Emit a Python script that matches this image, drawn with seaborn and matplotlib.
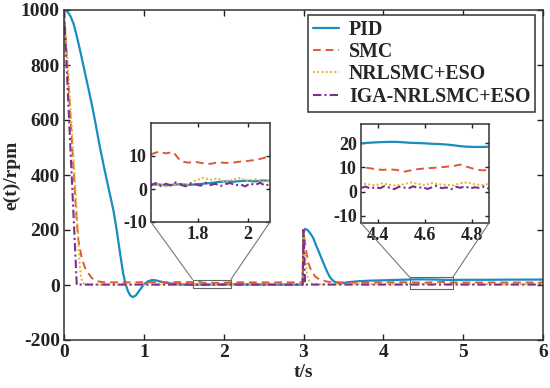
import numpy as np
import pandas as pd
import matplotlib
matplotlib.use("Agg")
import matplotlib.pyplot as plt
import seaborn as sns
from matplotlib.patches import Rectangle, ConnectionPatch

# ---------------- data ----------------
labels = ["PID", "SMC", "NRLSMC+ESO", "IGA-NRLSMC+ESO"]

w1_t = [1.61, 1.64, 1.67, 1.70, 1.73, 1.76, 1.79, 1.82, 1.85, 1.88, 1.91, 1.94, 1.97, 2.00, 2.03, 2.06, 2.09]
w2_t = [4.33, 4.36, 4.39, 4.42, 4.45, 4.48, 4.51, 4.54, 4.57, 4.60, 4.63, 4.66, 4.69, 4.72, 4.75, 4.78, 4.81, 4.84, 4.87]
w1_tf = [1.61, 1.63, 1.65, 1.67, 1.69, 1.71, 1.73, 1.75, 1.77, 1.79, 1.81, 1.83, 1.85, 1.87, 1.89, 1.91, 1.93, 1.95, 1.97, 1.99, 2.01, 2.03, 2.05, 2.07, 2.09]
w2_tf = [4.33, 4.35, 4.37, 4.39, 4.41, 4.43, 4.45, 4.47, 4.49, 4.51, 4.53, 4.55, 4.57, 4.59, 4.61, 4.63, 4.65, 4.67, 4.69, 4.71, 4.73, 4.75, 4.77, 4.79, 4.81, 4.83, 4.85, 4.87]

# PID
pid_t_a = [0, 0.04, 0.08, 0.12, 0.16, 0.20, 0.26, 0.30, 0.35, 0.40, 0.44, 0.50, 0.56, 0.62, 0.66, 0.70, 0.74,
           0.77, 0.80, 0.83, 0.86, 0.90, 0.95, 1.00, 1.05, 1.10, 1.15, 1.20, 1.30, 1.40, 1.50]
pid_e_a = [1000, 995, 978, 950, 905, 855, 775, 722, 655, 580, 516, 430, 350, 270, 200, 120, 44,
           5, -22, -38, -44, -38, -18, 2, 13, 18, 17, 13, 7, 3, 1.5]
pid_e_w1 = [1.2, 1.4, 1.1, 1.3, 1.5, 1.2, 1.4, 1.6, 1.8, 2.1, 2.3, 2.2, 2.4, 2.5, 2.3, 2.6, 2.5]
pid_t_b = [2.2, 2.5, 2.8, 2.99, 3.00, 3.02, 3.05, 3.08, 3.12, 3.15, 3.20, 3.25, 3.29, 3.33, 3.37, 3.40, 3.45, 3.50, 3.55, 3.70, 3.85, 4.00, 4.15, 4.30]
pid_e_b = [2, 1.5, 1.2, 1.2, 195, 204, 200, 190, 172, 150, 115, 80, 52, 29, 16, 10, 6, 7, 10, 14, 16, 17, 18.5, 19.5]
pid_e_w2 = [20.0, 20.2, 20.4, 20.5, 20.6, 20.6, 20.4, 20.2, 20.1, 20.0, 19.8, 19.7, 19.5, 19.2, 18.8, 18.6, 18.5, 18.5, 18.6]
pid_t_c = [5.0, 5.3, 5.6, 6.0]
pid_e_c = [18.8, 19.0, 19.5, 19.8]

# SMC
smc_t_a = [0, 0.05, 0.10, 0.15, 0.18, 0.22, 0.26, 0.30, 0.35, 0.41, 0.50, 0.70, 1.00, 1.30, 1.50]
smc_e_a = [1000, 760, 520, 270, 164, 100, 65, 44, 25, 14, 10, 9.5, 10, 10, 10.5]
smc_e_w1 = [10.5, 11.3, 10.8, 11.2, 8.4, 8.0, 8.2, 7.8, 7.6, 8.1, 7.9, 8.0, 8.3, 8.5, 8.8, 9.3, 10.0]
smc_t_b = [2.3, 2.6, 2.99, 3.00, 3.03, 3.06, 3.10, 3.15, 3.20, 3.30, 3.40, 3.60, 4.00]
smc_e_b = [9.5, 9.5, 9.5, 200, 130, 80, 50, 30, 20, 12, 10, 9, 9.5]
smc_e_w2 = [10.0, 9.8, 9.3, 9.0, 9.2, 9.0, 8.2, 8.8, 9.3, 9.6, 9.8, 10.0, 10.3, 10.6, 11.2, 10.2, 9.3, 8.8, 9.0]
smc_t_c = [5.0, 5.5, 6.0]
smc_e_c = [9, 9, 9]

# NRLSMC+ESO
nr_t_a = [0, 0.10, 0.16, 0.19, 0.21, 0.23, 0.26, 0.50, 1.00, 1.50]
nr_e_a = [1000, 565, 260, 100, 35, 10, 3, 1.5, 1.5, 1.5]
nr_e_w1 = [1.0, 1.5, 0.8, 1.2, 1.6, 1.3, 2.6, 3.4, 2.8, 3.2, 2.0, 2.9, 3.3, 2.4, 3.0, 2.2, 2.6]
nr_t_b = [2.3, 2.6, 2.99, 3.00, 3.03, 3.05, 3.08, 3.12, 3.30, 4.00]
nr_e_b = [1.5, 1.5, 1.5, 200, 80, 30, 8, 3, 3, 3]
nr_e_w2 = [3.5, 3.0, 2.6, 3.4, 2.8, 2.5, 3.0, 3.8, 3.2, 2.7, 3.6, 3.0, 2.8, 2.6, 3.5, 3.8, 3.0, 2.7, 3.2]
nr_t_c = [5.0, 6.0]
nr_e_c = [3, 3]

# IGA-NRLSMC+ESO
iga_t_a = [0, 0.16, 0.20, 0.50, 1.00, 1.50]
iga_e_a = [1000, 0, 1.5, 1.5, 1.5, 1.5]
iga_e_w1 = [1.2, 1.8, 0.9, 1.6, 1.1, 2.0, 1.3, 0.8, 1.7, 1.4, 1.0, 1.9, 1.2, 1.6, 0.9, 1.5, 1.8, 1.1, 1.4, 0.8, 1.7, 1.2, 1.9, 1.0, 1.5]
iga_t_b = [2.3, 2.6, 2.99, 3.00, 3.02, 3.30, 4.00]
iga_e_b = [1.5, 1.5, 1.5, 200, 1.5, 1.5, 1.5]
iga_e_w2 = [1.5, 2.1, 1.2, 1.9, 1.4, 2.3, 1.6, 1.0, 2.0, 1.7, 1.3, 2.2, 1.5, 1.9, 1.1, 1.8, 2.4, 1.4, 1.7, 1.0, 2.0, 1.6, 2.2, 1.3, 1.8, 1.5, 2.1, 1.2]
iga_t_c = [5.0, 6.0]
iga_e_c = [1.5, 1.5]

# axes settings
x_ticks = [0, 1, 2, 3, 4, 5, 6]
y_ticks = [-200, 0, 200, 400, 600, 800, 1000]
zoom1_xlim = (1.61, 2.09); zoom1_ylim = (-10, 20)
zoom1_xticks = [1.8, 2]; zoom1_yticks = [-10, 0, 10]
zoom2_xlim = (4.33, 4.87); zoom2_ylim = (-13, 28)
zoom2_xticks = [4.4, 4.6, 4.8]; zoom2_yticks = [-10, 0, 10, 20]

# ---------------- build table ----------------
def series(name, parts):
    t, e = [], []
    for a, b in parts:
        t += list(a); e += list(b)
    return pd.DataFrame({"t": t, "e": e, "method": name})

df = pd.concat([
    series(labels[0], [(pid_t_a, pid_e_a), (w1_t, pid_e_w1), (pid_t_b, pid_e_b), (w2_t, pid_e_w2), (pid_t_c, pid_e_c)]),
    series(labels[1], [(smc_t_a, smc_e_a), (w1_t, smc_e_w1), (smc_t_b, smc_e_b), (w2_t, smc_e_w2), (smc_t_c, smc_e_c)]),
    series(labels[2], [(nr_t_a, nr_e_a), (w1_t, nr_e_w1), (nr_t_b, nr_e_b), (w2_t, nr_e_w2), (nr_t_c, nr_e_c)]),
    series(labels[3], [(iga_t_a, iga_e_a), (w1_tf, iga_e_w1), (iga_t_b, iga_e_b), (w2_tf, iga_e_w2), (iga_t_c, iga_e_c)]),
], ignore_index=True)

colors = {labels[0]: "#1a8cc0", labels[1]: "#dc5a35", labels[2]: "#e8b12a", labels[3]: "#7e2f8e"}
styles = {labels[0]: "-", labels[1]: (0, (4, 2.5)), labels[2]: (0, (1, 1.2)), labels[3]: (0, (4, 1.5, 1, 1.5))}
widths = {labels[0]: 1.6, labels[1]: 1.4, labels[2]: 1.4, labels[3]: 1.5}

# ---------------- plotting ----------------
sns.set_theme(style="ticks")
plt.rcParams["font.family"] = ["Liberation Serif", "DejaVu Serif"]
plt.rcParams["font.weight"] = "bold"
plt.rcParams["axes.labelweight"] = "bold"
plt.rcParams["axes.unicode_minus"] = False

fig = plt.figure(figsize=(5.5, 3.88), dpi=100)
ax = fig.add_axes([64 / 550, 1 - 340 / 388, 479 / 550, 330 / 388])

def draw(axx, legend=False):
    for name in labels:
        d = df[df["method"] == name]
        sns.lineplot(data=d, x="t", y="e", ax=axx, color=colors[name], linestyle=styles[name],
                     linewidth=widths[name], estimator=None, sort=False,
                     label=name if legend else None, legend=False)

def style_axes(axx, fs, length):
    axx.tick_params(direction="in", top=True, right=True, length=length, width=1,
                    labelsize=fs, colors="#222222", pad=3)
    for lab in axx.get_xticklabels() + axx.get_yticklabels():
        lab.set_fontweight("bold")
    for s in axx.spines.values():
        s.set_color("#333333"); s.set_linewidth(1.1); s.set_visible(True)
    axx.set_xlabel(""); axx.set_ylabel("")

draw(ax, legend=True)
ax.set_xlim(0, 6)
ax.set_ylim(-200, 1000)
ax.set_xticks(x_ticks)
ax.set_yticks(y_ticks)
style_axes(ax, 14, 4)
ax.set_xlabel("t/s", fontsize=14, fontweight="bold", labelpad=2)
ax.set_ylabel("e(t)/rpm", fontsize=14, fontweight="bold", labelpad=0)

handles, labs = ax.get_legend_handles_labels()
leg = ax.legend(handles, labs, loc="upper right", bbox_to_anchor=(0.984, 0.986),
                prop={"family": "Liberation Serif", "weight": "bold", "size": 14.3},
                frameon=True, fancybox=False, edgecolor="#333333", framealpha=1,
                borderpad=0.25, labelspacing=0.12, handlelength=1.3, handletextpad=0.5,
                borderaxespad=0)
leg.get_frame().set_linewidth(1.1)

def add_zoom(bounds, xlim, ylim, xticks, yticks):
    ins = ax.inset_axes(bounds)
    draw(ins)
    ins.set_xlim(*xlim); ins.set_ylim(*ylim)
    ins.set_xticks(xticks); ins.set_yticks(yticks)
    ins.set_xticklabels([f"{v:g}" for v in xticks])
    style_axes(ins, 13, 3)
    rect = Rectangle((xlim[0], ylim[0]), xlim[1] - xlim[0], ylim[1] - ylim[0],
                     fill=False, edgecolor="#666666", linewidth=0.8, zorder=5)
    ax.add_patch(rect)
    for ax_x, dx in ((0, xlim[0]), (1, xlim[1])):
        cp = ConnectionPatch(xyA=(ax_x, 0), coordsA=ins.transAxes,
                             xyB=(dx, ylim[1]), coordsB=ax.transData,
                             color="#777777", linewidth=0.8)
        fig.add_artist(cp)
    return ins

add_zoom([(151 - 64) / 479, (340 - 222) / 330, 119 / 479, 99 / 330],
         zoom1_xlim, zoom1_ylim, zoom1_xticks, zoom1_yticks)
add_zoom([(361 - 64) / 479, (340 - 223) / 330, 128 / 479, 99 / 330],
         zoom2_xlim, zoom2_ylim, zoom2_xticks, zoom2_yticks)

fig.savefig("out.png", dpi=100)
